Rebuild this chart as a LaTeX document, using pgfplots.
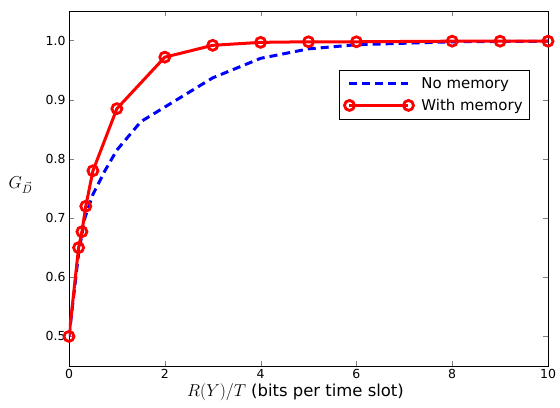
\documentclass[border=0pt]{standalone}
\usepackage{fontspec}
\setmainfont{DejaVu Sans}
\usepackage{pgfplots}
\pgfplotsset{compat=1.18}
\definecolor{mplblue}{HTML}{0000FF}
\definecolor{mplred}{HTML}{FF0000}

\begin{document}
\begin{tikzpicture}
\begin{axis}[
    name=ax,
    scale only axis,
    width=479bp, height=355bp,
    xmin=0, xmax=10, ymin=0.45, ymax=1.05,
    xtick={0,2,4,6,8,10},
    ytick={0.5,0.6,0.7,0.8,0.9,1.0},
    yticklabel style={/pgf/number format/.cd, fixed, fixed zerofill, precision=1},
    /pgf/number format/assume math mode=true,
    tick label style={font=\fontsize{12.5}{14}\selectfont},
    tick align=inside,
    major tick length=5bp,
    xlabel={$R(Y)/T$ (bits per time slot)},
    xlabel style={font=\fontsize{16.5}{19}\selectfont, yshift=2bp, xshift=-13bp},
    ylabel={$G_{\vec{D}}$},
    every axis y label/.style={at={(rel axis cs:0,0.51)}, anchor=east, xshift=-33bp,
        font=\fontsize{17}{19}\selectfont},
    legend style={at={(0.962,0.834)}, anchor=north east, draw=black,
        font=\fontsize{15}{18}\selectfont, row sep=5bp, column sep=6bp,
        inner xsep=5bp, inner ysep=5.5bp},
    legend cell align=left,
    legend image code/.code={
        \draw[#1] (0bp,0bp) -- (59bp,0bp);
        \draw[#1, mark repeat=1, only marks] plot coordinates {(0bp,0bp) (59bp,0bp)};
    },
]
\addplot[color=mplblue, line width=3bp, dash pattern=on 8bp off 5bp, no marks]
    coordinates {
    (0,0.5) (0.2,0.64) (0.33,0.70) (0.5,0.74) (0.75,0.78) (1,0.815)
    (1.5,0.863) (3,0.937) (4,0.97) (5,0.986) (6,0.993) (8,0.998) (10,0.999)
};
\addlegendentry{No memory}
\addplot[color=mplred, line width=3bp, mark=o, mark size=5bp,
    mark options={solid, fill=white, line width=2.8bp}]
    coordinates {
    (0,0.5) (0.2,0.65) (0.27,0.677) (0.35,0.72) (0.5,0.78) (1,0.885)
    (2,0.972) (3,0.992) (4,0.997) (5,0.998) (6,0.998) (8,0.999) (9,0.999) (10,0.999)
};
\addlegendentry{With memory}
\end{axis}
\path (ax.south west) ++(-69bp,-42bp) rectangle ++(560bp,408bp);
\end{tikzpicture}
\end{document}
